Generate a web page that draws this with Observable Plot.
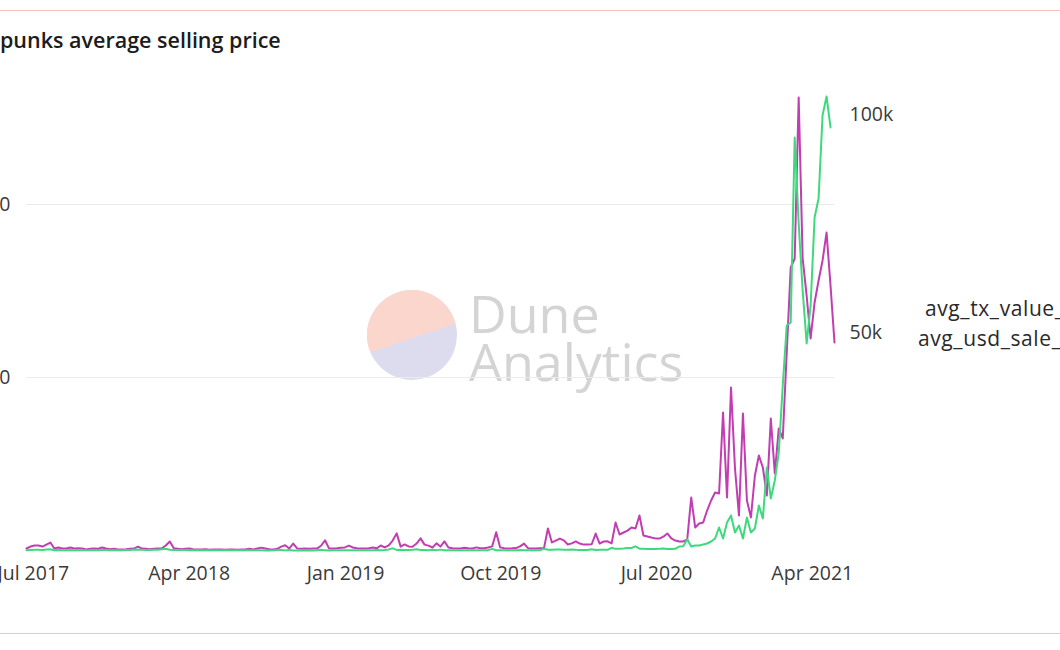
<!DOCTYPE html>
<html><head><meta charset="utf-8">
<script src="https://cdn.jsdelivr.net/npm/d3@7"></script>
<script src="https://cdn.jsdelivr.net/npm/@observablehq/plot@0.6"></script>
<style>
html,body{margin:0;padding:0;width:1060px;height:650px;overflow:hidden;background:#fff;}
#wrap{position:relative;width:1060px;height:650px;overflow:hidden;}
.border{position:absolute;left:0;width:1060px;height:1px;background:#f4c2ba;}
#chart{position:absolute;left:0;top:0;}
#overlay{position:absolute;left:0;top:0;}
</style></head><body>
<div id="wrap">
  <svg id="overlay" width="1060" height="650"></svg>
  <div id="chart"></div>
  <div class="border" style="top:10px"></div>
  <div class="border" style="top:633px"></div>
</div>
<script>
// ---- data ----
const titleText = "Cryptopunks average selling price";
const startWeek = "2017-06-19";
const seriesNames = ["avg_tx_value_eth", "avg_usd_sale_price"];
// weekly average sale value in ETH (left axis)
const ethValues = [
  0.23,0.46,0.58,0.58,0.46,0.69,0.92,0.23,0.35,0.23,0.23,0.35,0.23,
  0.25,0.22,0.12,0.20,0.24,0.21,0.35,0.23,0.14,0.20,0.13,0.12,0.15,0.20,0.22,0.45,
  0.22,0.20,0.14,0.20,0.24,0.26,0.58,1.04,0.25,0.20,0.15,0.20,0.22,
  0.13,0.11,0.12,0.14,0.10,0.12,0.11,0.13,0.10,0.11,0.12,0.10,0.13,0.11,
  0.20,0.12,0.22,0.33,0.24,0.14,0.13,0.20,0.45,0.60,0.22,0.80,0.24,0.20,0.22,0.21,0.24,0.22,
  0.55,1.18,0.24,0.22,0.25,0.33,0.36,0.56,0.35,0.25,0.22,0.24,0.26,0.34,0.25,0.58,0.36,0.60,1.15,1.98,
  0.45,0.70,0.47,0.44,0.80,1.40,0.68,0.56,0.35,0.82,0.46,1.05,0.34,0.25,0.22,0.24,0.33,0.26,0.23,0.36,
  0.25,0.27,0.35,0.48,2.10,0.36,0.26,0.24,0.25,0.28,0.47,0.80,0.27,0.24,0.23,0.26,0.25,
  2.55,0.93,1.15,1.38,1.17,0.70,0.82,1.05,0.80,0.68,0.70,0.72,1.96,0.80,1.04,1.06,0.82,3.24,1.85,
  2.08,2.30,2.66,2.55,4.05,1.74,1.62,1.50,1.40,1.38,1.60,1.97,1.39,1.15,1.04,
  1.05,1.27,6.13,2.66,3.12,3.24,4.62,5.78,6.70,6.59,15.95,6.13,18.84,9.48,4.05,15.84,5.78,3.82,
  8.67,10.98,9.60,6.36,15.26,8.90,14.10,12.95,22.89,32.72,33.76,52.37,33.76,29.48,24.51,28.67,
  31.21,33.53,36.76,30.64,24.05
];
// weekly average sale value in USD (right axis)
const usdValues = [
  70,140,175,170,140,210,280,70,100,70,75,105,70,
  80,70,40,70,85,80,140,100,60,90,60,60,90,110,250,
  170,150,100,140,150,170,300,420,180,140,100,130,140,
  60,70,55,65,60,50,55,60,45,50,45,40,45,40,
  56,34,50,73,50,28,26,42,90,108,29,96,26,25,25,26,25,24,
  50,150,30,28,35,45,50,80,50,35,35,40,45,60,45,100,65,110,250,500,
  130,200,140,120,190,300,140,115,70,160,85,200,60,45,40,45,60,45,40,60,
  40,45,55,75,370,60,40,35,35,40,65,110,37,32,30,35,35,
  420,160,200,250,230,170,200,250,170,130,100,100,270,120,170,190,150,620,380,
  420,480,580,580,950,410,380,350,330,330,380,480,330,330,400,
  900,950,2600,900,1150,1150,1380,1606,2065,2750,5280,2750,6420,8030,4130,5735,2750,7570,
  4130,5050,10320,7340,19040,11930,16060,22480,37850,51620,52300,94740,75000,59640,47490,56200,
  76400,80750,99800,104150,97040
];
const xTickDates = ["2017-07-01","2018-04-01","2019-01-01","2019-10-01","2020-07-01","2021-04-01"];
const leftTicks = [20, 40];
const rightTickValues = [50000, 100000];
const rightTickLabels = ["50k", "100k"];

// ---- chart ----
const FONT = "'Open Sans', 'Noto Sans', sans-serif";
const magenta = "#c23cb2";
const green = "#3dd97c";
const usdPerUnit = 1984; // right-axis USD per left-axis unit (dual axis alignment)

const start = new Date(startWeek + "T00:00:00Z");
const data = ethValues.map((v, i) => ({date: d3.utcDay.offset(start, 7 * i), eth: v, usd: usdValues[i]}));
const rightPos = rightTickValues.map(v => v / usdPerUnit);

const chart = Plot.plot({
  width: 1060, height: 650,
  marginLeft: 26, marginRight: 226, marginTop: 74.25, marginBottom: 100,
  x: {type: "utc", domain: [data[0].date, data[data.length - 1].date], axis: null},
  y: {domain: [0, 55], axis: null},
  style: {fontFamily: FONT, fontSize: "19.5px", color: "#3a3a3a", background: "transparent", overflow: "visible"},
  marks: [
    Plot.gridY(leftTicks, {stroke: "#ebebeb", strokeOpacity: 1, strokeWidth: 1}),
    Plot.axisY(leftTicks, {anchor: "left", tickSize: 0, tickPadding: 16, label: null, fontSize: 19.5}),
    Plot.axisY(rightPos, {anchor: "right", tickSize: 0, tickPadding: 15, label: null, fontSize: 19.5,
      tickFormat: d => rightTickLabels[rightPos.indexOf(d)]}),
    Plot.axisX(xTickDates.map(d => new Date(d + "T00:00:00Z")), {anchor: "bottom", tickSize: 0, tickPadding: 16,
      label: null, fontSize: 19.5, tickFormat: d3.utcFormat("%b %Y")}),
    Plot.lineY(data, {x: "date", y: "eth", stroke: magenta, strokeWidth: 2, curve: "linear"}),
    Plot.lineY(data, {x: "date", y: d => d.usd / usdPerUnit, stroke: green, strokeWidth: 2, curve: "linear"})
  ]
});
document.getElementById("chart").appendChild(chart);

// ---- overlay: watermark, title, legend ----
const ov = d3.select("#overlay");
const defs = ov.append("defs");
defs.append("clipPath").attr("id", "wmclip").append("circle").attr("cx", 412).attr("cy", 335).attr("r", 45);
const wm = ov.append("g");
wm.append("circle").attr("cx", 412).attr("cy", 335).attr("r", 45).attr("fill", "#dddcee");
wm.append("path").attr("d", "M360,356 L466,320 L466,280 L360,280 Z").attr("fill", "#fbd6cc").attr("clip-path", "url(#wmclip)");
wm.append("text").attr("x", 469).attr("y", 333).attr("font-family", FONT).attr("font-size", 52)
  .attr("fill", "#d4d4d4").text("Dune");
wm.append("text").attr("x", 469).attr("y", 381).attr("font-family", FONT).attr("font-size", 52)
  .attr("fill", "#d4d4d4").text("Analytics");

// title: the reference is cropped so only the tail is visible
const TITLE_SIZE = 21.5;
const probe = ov.append("text").attr("font-family", FONT).attr("font-size", TITLE_SIZE).attr("font-weight", 600).text("Crypto");
const cropW = probe.node().getComputedTextLength();
probe.remove();
ov.append("text").attr("x", -cropW).attr("y", 48).attr("font-family", FONT).attr("font-size", TITLE_SIZE)
  .attr("font-weight", 600).attr("fill", "#1c1c1c").text(titleText);

// legend (cut at right edge in the reference)
const leg = ov.append("g").attr("font-family", FONT).attr("font-size", 21).attr("letter-spacing", "0.6px").attr("fill", "#2a2a2a");
leg.append("text").attr("x", 925).attr("y", 316).text(seriesNames[0]);
leg.append("text").attr("x", 918).attr("y", 346).text(seriesNames[1]);
</script>
</body></html>
